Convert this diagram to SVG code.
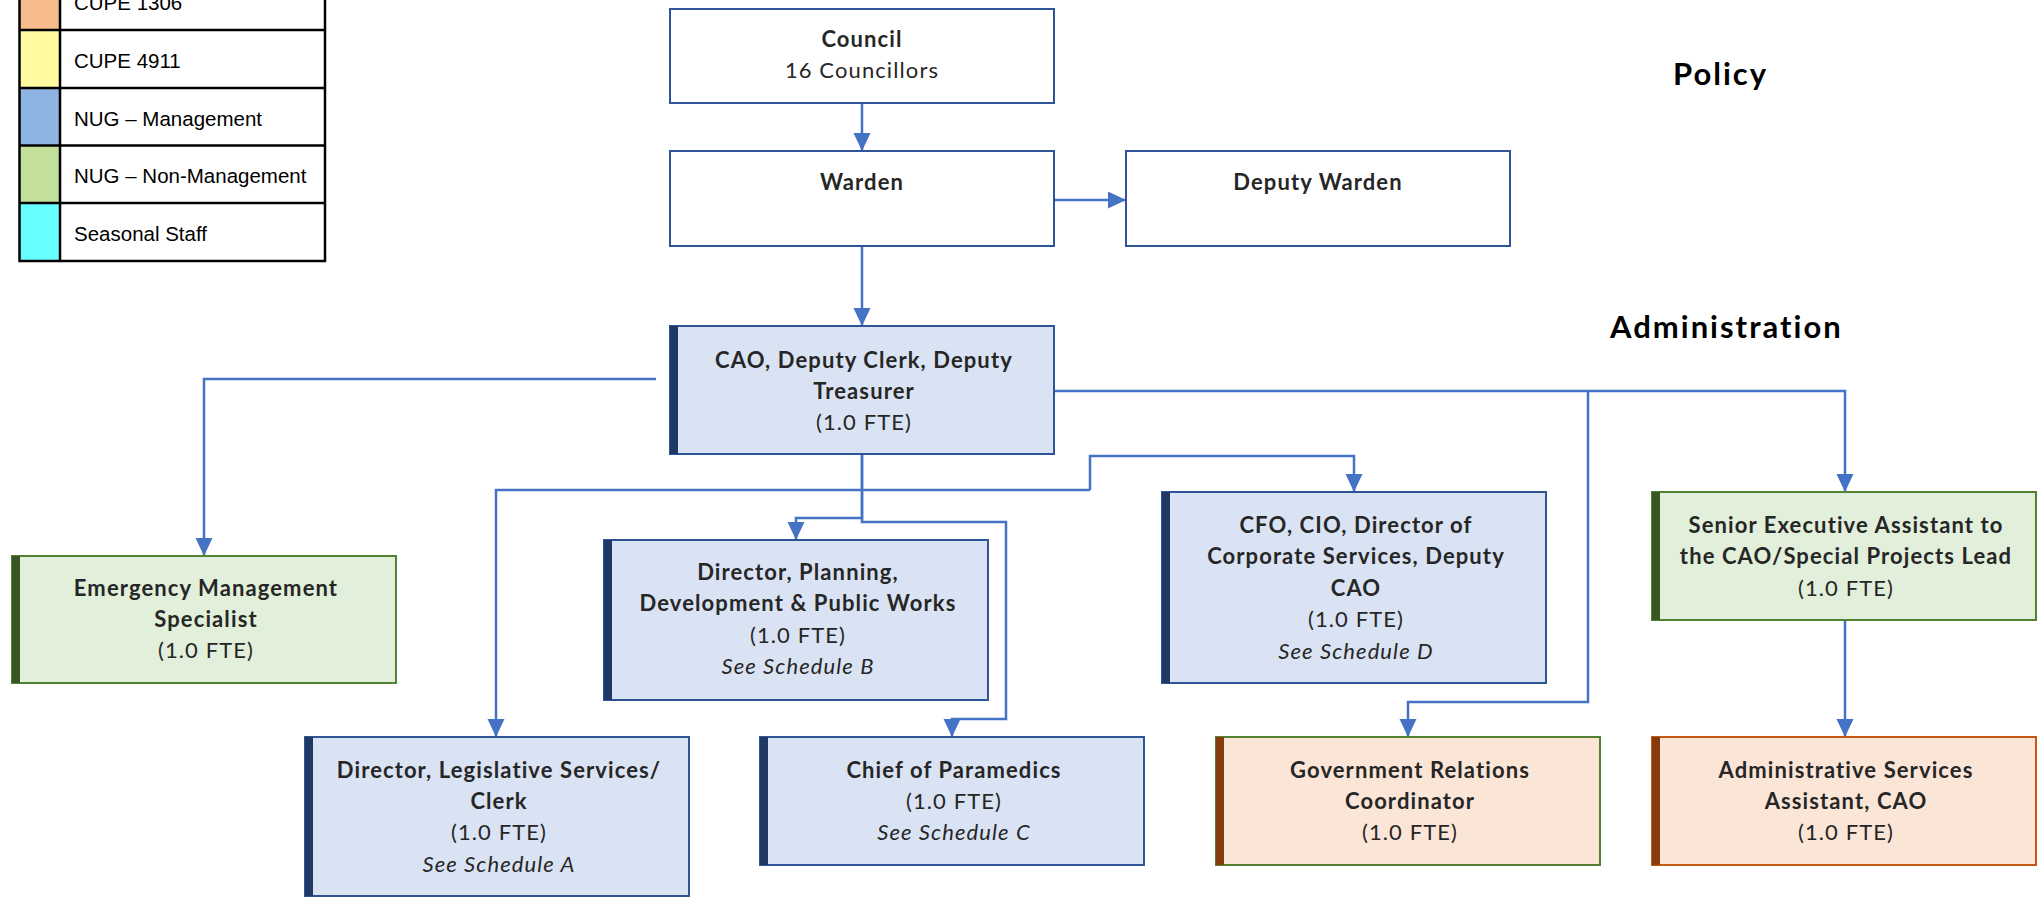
<svg xmlns="http://www.w3.org/2000/svg" width="2037" height="902" viewBox="0 0 2037 902">
<style>
.bg{fill:#ffffff}
.lg{fill:none;stroke:#000;stroke-width:2.5}
.lt{font-family:"Liberation Sans",Arial,sans-serif;font-size:20.5px;fill:#000}
.box{stroke-width:2}
.w{fill:#ffffff;stroke:#2F5597}
.b{fill:#DAE3F3;stroke:#2F5597}
.g{fill:#E2EFDA;stroke:#548235}
.o{fill:#FBE5D6;stroke:#C55A11}
.og{fill:#FBE5D6;stroke:#548235}
.bb{fill:#203864}
.gb{fill:#375623}
.ob{fill:#843C0C}
.t{font-family:Lato,"Open Sans",sans-serif;font-size:22px;fill:#262626;text-anchor:middle;letter-spacing:1.1px}
.tb{font-weight:bold}
.ti{font-style:italic}
.hd{font-family:Lato,"Open Sans",sans-serif;font-size:31px;font-weight:bold;fill:#000;letter-spacing:2px}
.c{fill:none;stroke:#4472C4;stroke-width:2.5;marker-end:url(#ah)}
</style>
<defs>
<marker id="ah" markerUnits="userSpaceOnUse" markerWidth="18" markerHeight="18" refX="18" refY="8.5" orient="auto">
<path d="M0,0 L18,8.5 L0,17 z" fill="#4472C4"/>
</marker>
</defs>
<rect class="bg" x="0" y="0" width="2037" height="902"/>

<g id="legend">
<rect x="19.5" y="-28" width="40.5" height="58" fill="#F6BC8C"/>
<rect x="19.5" y="30" width="40.5" height="58" fill="#FFF9A0"/>
<rect x="19.5" y="88" width="40.5" height="57.5" fill="#8EB4E3"/>
<rect x="19.5" y="145.5" width="40.5" height="57.5" fill="#C3E09B"/>
<rect x="19.5" y="203" width="40.5" height="58" fill="#66FFFF"/>
<rect class="lg" x="19.5" y="-28" width="305.5" height="289"/>
<path class="lg" d="M60,-28 V261 M19.5,30 H325 M19.5,88 H325 M19.5,145.5 H325 M19.5,203 H325"/>
<text class="lt" x="74" y="10">CUPE 1306</text>
<text class="lt" x="74" y="68">CUPE 4911</text>
<text class="lt" x="74" y="125.5">NUG – Management</text>
<text class="lt" x="74" y="183">NUG – Non-Management</text>
<text class="lt" x="74" y="241">Seasonal Staff</text>
</g>

<text class="hd" x="1673" y="85">Policy</text>
<text class="hd" x="1610" y="338">Administration</text>

<g id="connectors">
<path class="c" d="M862,103 V151"/>
<path class="c" d="M1054,200 H1126"/>
<path class="c" d="M862,246 V326"/>
<path class="c" d="M656,379 H204 V556"/>
<path class="c" d="M862,454 V518 H796 V540"/>
<path class="c" d="M862,454 V522 H1006 V719 H952 V737"/>
<path class="c" d="M1054,391 H1845 V492"/>
<path class="c" d="M1588,391 V702 H1408 V737"/>
<path class="c" d="M1090,490 V456 H1354 V492"/>
<path class="c" d="M1090,490 H496 V737"/>
<path class="c" d="M1845,620 V737"/>
</g>

<g id="council">
<rect class="box w" x="670" y="9" width="384" height="94"/>
<text class="t tb" x="862" y="47">Council</text>
<text class="t" x="862" y="78">16 Councillors</text>
</g>

<g id="warden">
<rect class="box w" x="670" y="151" width="384" height="95"/>
<text class="t tb" x="862" y="190">Warden</text>
</g>

<g id="deputy-warden">
<rect class="box w" x="1126" y="151" width="384" height="95"/>
<text class="t tb" x="1318" y="190">Deputy Warden</text>
</g>

<g id="cao">
<rect class="box b" x="670" y="326" width="384" height="128"/>
<rect class="bb" x="670" y="326" width="8" height="128"/>
<text class="t tb" x="864" y="368">CAO, Deputy Clerk, Deputy</text>
<text class="t tb" x="864" y="399">Treasurer</text>
<text class="t" x="864" y="430">(1.0 FTE)</text>
</g>

<g id="emergency">
<rect class="box g" x="12" y="556" width="384" height="127"/>
<rect class="gb" x="12" y="556" width="8" height="127"/>
<text class="t tb" x="206" y="596">Emergency Management</text>
<text class="t tb" x="206" y="627">Specialist</text>
<text class="t" x="206" y="658">(1.0 FTE)</text>
</g>

<g id="director-planning">
<rect class="box b" x="604" y="540" width="384" height="160"/>
<rect class="bb" x="604" y="540" width="8" height="160"/>
<text class="t tb" x="798" y="580">Director, Planning,</text>
<text class="t tb" x="798" y="611">Development &amp; Public Works</text>
<text class="t" x="798" y="643">(1.0 FTE)</text>
<text class="t ti" x="798" y="674">See Schedule B</text>
</g>

<g id="cfo">
<rect class="box b" x="1162" y="492" width="384" height="191"/>
<rect class="bb" x="1162" y="492" width="8" height="191"/>
<text class="t tb" x="1356" y="533">CFO, CIO, Director of</text>
<text class="t tb" x="1356" y="564">Corporate Services, Deputy</text>
<text class="t tb" x="1356" y="596">CAO</text>
<text class="t" x="1356" y="627">(1.0 FTE)</text>
<text class="t ti" x="1356" y="659">See Schedule D</text>
</g>

<g id="senior-ea">
<rect class="box g" x="1652" y="492" width="384" height="128"/>
<rect class="gb" x="1652" y="492" width="8" height="128"/>
<text class="t tb" x="1846" y="533">Senior Executive Assistant to</text>
<text class="t tb" x="1846" y="564">the CAO/Special Projects Lead</text>
<text class="t" x="1846" y="596">(1.0 FTE)</text>
</g>

<g id="director-legislative">
<rect class="box b" x="305" y="737" width="384" height="159"/>
<rect class="bb" x="305" y="737" width="8" height="159"/>
<text class="t tb" x="499" y="778">Director, Legislative Services/</text>
<text class="t tb" x="499" y="809">Clerk</text>
<text class="t" x="499" y="840">(1.0 FTE)</text>
<text class="t ti" x="499" y="872">See Schedule A</text>
</g>

<g id="chief-paramedics">
<rect class="box b" x="760" y="737" width="384" height="128"/>
<rect class="bb" x="760" y="737" width="8" height="128"/>
<text class="t tb" x="954" y="778">Chief of Paramedics</text>
<text class="t" x="954" y="809">(1.0 FTE)</text>
<text class="t ti" x="954" y="840">See Schedule C</text>
</g>

<g id="gov-relations">
<rect class="box og" x="1216" y="737" width="384" height="128"/>
<rect class="ob" x="1216" y="737" width="8" height="128"/>
<text class="t tb" x="1410" y="778">Government Relations</text>
<text class="t tb" x="1410" y="809">Coordinator</text>
<text class="t" x="1410" y="840">(1.0 FTE)</text>
</g>

<g id="admin-services">
<rect class="box o" x="1652" y="737" width="384" height="128"/>
<rect class="ob" x="1652" y="737" width="8" height="128"/>
<text class="t tb" x="1846" y="778">Administrative Services</text>
<text class="t tb" x="1846" y="809">Assistant, CAO</text>
<text class="t" x="1846" y="840">(1.0 FTE)</text>
</g>
</svg>
